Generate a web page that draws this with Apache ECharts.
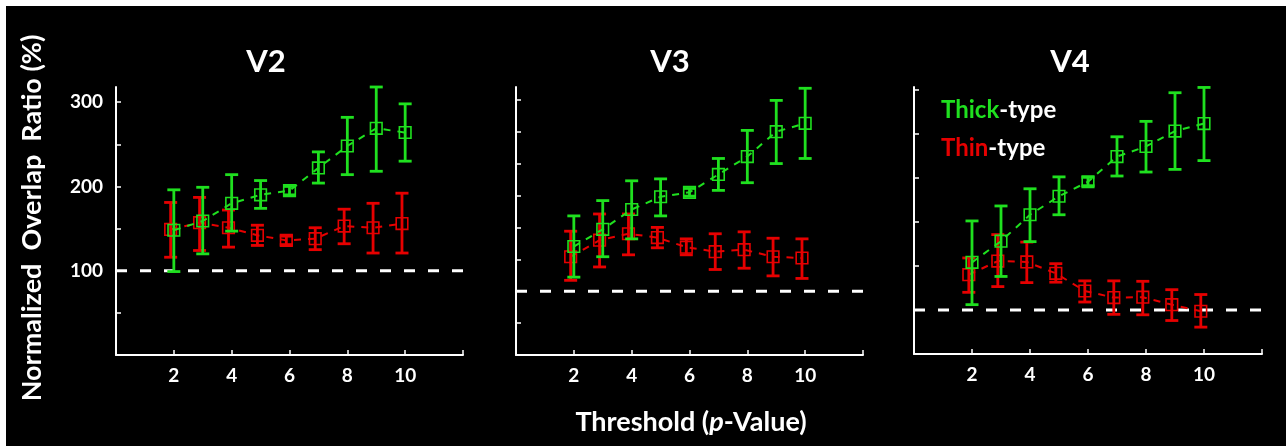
<!DOCTYPE html>
<html><head><meta charset="utf-8">
<script src="https://cdn.jsdelivr.net/npm/echarts@6/dist/echarts.min.js"></script>
<style>html,body{margin:0;padding:0;background:#fff}#c{width:1286px;height:446px}</style>
</head><body><div id="c"></div>
<script>
// ---- data ----
const thresholds = [2, 3, 4, 5, 6, 7, 8, 9, 10];
const xTickValues = [2, 4, 6, 8, 10, 12];
const xLabelValues = [2, 4, 6, 8, 10];
const panelNames = ['V2', 'V3', 'V4'];
const baselineValue = 100;

const v2Thick   = [148, 159, 180, 190, 195, 222, 248, 269, 264];
const v2ThickLo = [99, 120, 147, 174, 190, 204, 214, 218, 230];
const v2ThickHi = [196, 199, 214, 207, 200, 241, 282, 318, 298];
const v2Thin    = [149, 157, 151, 142, 136, 138, 153, 151, 156];
const v2ThinLo  = [116, 124, 128, 130, 131, 125, 132, 121, 121];
const v2ThinHi  = [181, 187, 172, 154, 141, 151, 173, 180, 192];

const v3Thick   = [170, 197, 228, 248, 255, 283, 311, 350, 363];
const v3ThickLo = [122, 154, 182, 218, 249, 258, 270, 300, 308];
const v3ThickHi = [218, 242, 273, 276, 261, 308, 352, 399, 418];
const v3Thin    = [154, 180, 190, 184, 169, 162, 165, 154, 152];
const v3ThinLo  = [117, 138, 157, 168, 157, 134, 136, 124, 120];
const v3ThinHi  = [194, 221, 221, 200, 182, 190, 193, 183, 182];

const v4Thick   = [208, 256, 316, 358, 391, 448, 471, 506, 523];
const v4ThickLo = [112, 176, 255, 316, 382, 404, 413, 419, 439];
const v4ThickHi = [302, 336, 375, 402, 401, 493, 528, 593, 605];
const v4Thin    = [180, 211, 209, 183, 143, 128, 129, 112, 97];
const v4ThinLo  = [140, 153, 162, 163, 118, 90, 89, 76, 61];
const v4ThinHi  = [218, 271, 254, 205, 166, 166, 165, 146, 135];

const v2YTicks = [50, 100, 150, 200, 250, 300];
const v2YLabels = [100, 200, 300];
const v3YTicks = [50, 100, 150, 200, 250, 300, 350, 400];
const v4YTicks = [100, 200, 300, 400, 500, 600];
const yMax = [318, 420, 606];

// ---- styling ----
const GREEN = '#1fe01f';
const RED = '#e60000';
const FONT = 'Lato';

const panels = [
  {thick: v2Thick, thickLo: v2ThickLo, thickHi: v2ThickHi, thin: v2Thin, thinLo: v2ThinLo, thinHi: v2ThinHi, yTicks: v2YTicks, yLabels: v2YLabels},
  {thick: v3Thick, thickLo: v3ThickLo, thickHi: v3ThickHi, thin: v3Thin, thinLo: v3ThinLo, thinHi: v3ThinHi, yTicks: v3YTicks, yLabels: []},
  {thick: v4Thick, thickLo: v4ThickLo, thickHi: v4ThickHi, thin: v4Thin, thinLo: v4ThinLo, thinHi: v4ThinHi, yTicks: v4YTicks, yLabels: []}
];

const grids = [
  {left: 116, top: 87, width: 347, height: 268},
  {left: 516, top: 87, width: 347, height: 268},
  {left: 914, top: 87, width: 348, height: 267}
];

function errRenderer(color) {
  return function (params, api) {
    const x = api.value(0), y = api.value(1), lo = api.value(2), hi = api.value(3);
    const p = api.coord([x, y]);
    const pl = api.coord([x, lo]);
    const ph = api.coord([x, hi]);
    const cap = 6.5, s = 5.8;
    return {
      type: 'group',
      children: [
        {type: 'line', shape: {x1: p[0], y1: ph[1], x2: p[0], y2: pl[1]}, style: {stroke: color, lineWidth: 2.8}},
        {type: 'line', shape: {x1: p[0] - cap, y1: ph[1], x2: p[0] + cap, y2: ph[1]}, style: {stroke: color, lineWidth: 2.8}},
        {type: 'line', shape: {x1: p[0] - cap, y1: pl[1], x2: p[0] + cap, y2: pl[1]}, style: {stroke: color, lineWidth: 2.8}},
        {type: 'rect', shape: {x: p[0] - s, y: p[1] - s, width: 2 * s, height: 2 * s}, style: {fill: 'none', stroke: color, lineWidth: 1.6}}
      ]
    };
  };
}

const xAxes = [], yAxes = [], series = [];
panels.forEach((pn, i) => {
  xAxes.push({
    gridIndex: i, type: 'value', min: 0, max: 12,
    axisLine: {show: true, lineStyle: {color: '#fff', width: 2}},
    axisTick: {show: true, inside: true, length: 5, lineStyle: {color: '#fff', width: 1.5}, customValues: xTickValues},
    axisLabel: {show: true, color: '#fff', fontFamily: FONT, fontWeight: 'bold', fontSize: 19, margin: 11, customValues: xLabelValues},
    splitLine: {show: false}
  });
  // hidden shifted axis for thin-type (small horizontal offset)
  xAxes.push({
    gridIndex: i, type: 'value', min: 0.11, max: 12.11, show: false, splitLine: {show: false}
  });
  yAxes.push({
    gridIndex: i, type: 'value', min: 0, max: yMax[i],
    axisLine: {show: true, lineStyle: {color: '#fff', width: 2}},
    axisTick: {show: true, inside: true, length: 5, lineStyle: {color: '#fff', width: 1.5}, customValues: pn.yTicks},
    axisLabel: {show: pn.yLabels.length > 0, color: '#fff', fontFamily: FONT, fontWeight: 'bold', fontSize: 19, margin: 13, customValues: pn.yLabels.length ? pn.yLabels : [0]},
    splitLine: {show: false}
  });
  const thickData = thresholds.map((t, k) => [t, pn.thick[k], pn.thickLo[k], pn.thickHi[k]]);
  const thinData = thresholds.map((t, k) => [t, pn.thin[k], pn.thinLo[k], pn.thinHi[k]]);
  series.push({
    type: 'line', xAxisIndex: 2 * i, yAxisIndex: i, z: 1,
    data: [[0, baselineValue], [12, baselineValue]], showSymbol: false, silent: true,
    lineStyle: {color: '#fff', width: 3, type: [11, 13]}
  });
  series.push({
    type: 'line', xAxisIndex: 2 * i + 1, yAxisIndex: i, z: 2,
    data: thinData.map(d => [d[0], d[1]]), showSymbol: false,
    lineStyle: {color: RED, width: 2, type: [7, 7]}
  });
  series.push({
    type: 'custom', xAxisIndex: 2 * i + 1, yAxisIndex: i, z: 3,
    data: thinData, renderItem: errRenderer(RED)
  });
  series.push({
    type: 'line', xAxisIndex: 2 * i, yAxisIndex: i, z: 4,
    data: thickData.map(d => [d[0], d[1]]), showSymbol: false,
    lineStyle: {color: GREEN, width: 2, type: [7, 7]}
  });
  series.push({
    type: 'custom', xAxisIndex: 2 * i, yAxisIndex: i, z: 5,
    data: thickData, renderItem: errRenderer(GREEN)
  });
});

const titleX = [266, 670, 1070];
const graphics = [
  {type: 'rect', z: -10, shape: {x: 6, y: 6, width: 1280, height: 440}, style: {fill: '#000'}}
];
panelNames.forEach((n, i) => {
  graphics.push({type: 'text', z: 10, x: titleX[i], y: 62, style: {text: n, fill: '#fff', font: 'bold 31px ' + FONT, textAlign: 'center', textVerticalAlign: 'middle'}});
});
graphics.push({type: 'text', z: 10, x: 32, y: 218, rotation: Math.PI / 2,
  style: {text: '{a|Normalized}{s| }{a|Overlap}{s| }{a|Ratio (%)}', textAlign: 'center', textVerticalAlign: 'middle',
    rich: {a: {fill: '#fff', font: 'bold 27px ' + FONT}, s: {fill: '#fff', font: 'bold 27px ' + FONT, width: 13}}}});
graphics.push({type: 'text', z: 10, x: 691, y: 422,
  style: {text: '{a|Threshold (}{b|p}{a|-Value)}', textAlign: 'center', textVerticalAlign: 'middle',
    rich: {a: {fill: '#fff', font: 'bold 27px ' + FONT}, b: {fill: '#fff', font: 'italic bold 27px ' + FONT}}}});
graphics.push({type: 'text', z: 10, x: 941, y: 110,
  style: {text: '{g|Thick}{w|-type}', textAlign: 'left', textVerticalAlign: 'middle',
    rich: {g: {fill: GREEN, font: 'bold 24px ' + FONT}, w: {fill: '#fff', font: 'bold 24px ' + FONT}}}});
graphics.push({type: 'text', z: 10, x: 941, y: 148,
  style: {text: '{r|Thin}{w|-type}', textAlign: 'left', textVerticalAlign: 'middle',
    rich: {r: {fill: RED, font: 'bold 24px ' + FONT}, w: {fill: '#fff', font: 'bold 24px ' + FONT}}}});

const chart = echarts.init(document.getElementById('c'));
chart.setOption({
  backgroundColor: '#fff',
  animation: false,
  grid: grids,
  xAxis: xAxes,
  yAxis: yAxes,
  series: series,
  graphic: {elements: graphics}
});
</script></body></html>
